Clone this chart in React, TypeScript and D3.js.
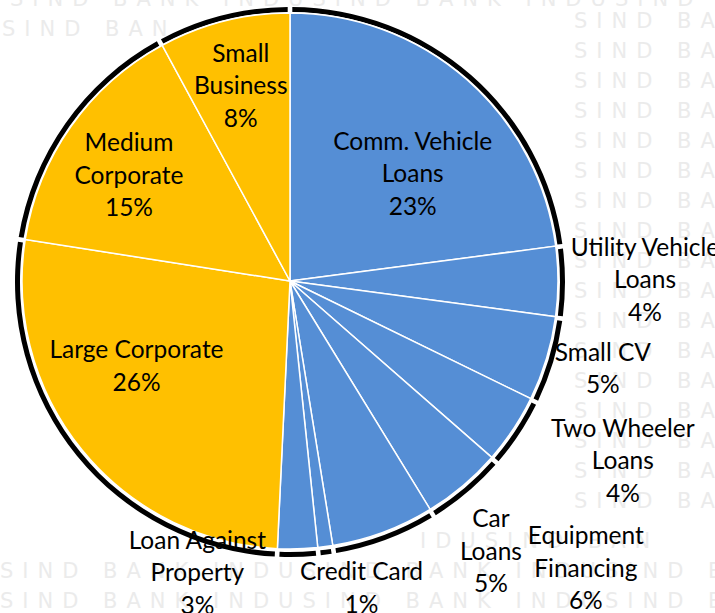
import React from 'react';
import * as d3 from 'd3';

// loan book mix, clockwise from 12 o'clock
const categories = [
  'Comm. Vehicle Loans',
  'Utility Vehicle Loans',
  'Small CV',
  'Two Wheeler Loans',
  'Car Loans',
  'Equipment Financing',
  'Credit Card',
  'Loan Against Property',
  'Large Corporate',
  'Medium Corporate',
  'Small Business',
];
const labelLines = [
  ['Comm. Vehicle', 'Loans'],
  ['Utility Vehicle', 'Loans'],
  ['Small CV'],
  ['Two Wheeler', 'Loans'],
  ['Car', 'Loans'],
  ['Equipment', 'Financing'],
  ['Credit Card'],
  ['Loan Against', 'Property'],
  ['Large Corporate'],
  ['Medium', 'Corporate'],
  ['Small', 'Business'],
];
const shares = [22.9, 4.2, 5.1, 4.2, 4.8, 6.2, 0.9, 2.4, 26.7, 14.6, 7.9];
const shareLabels = ['23%', '4%', '5%', '4%', '5%', '6%', '1%', '3%', '26%', '15%', '8%'];
const groups = ['Consumer', 'Consumer', 'Consumer', 'Consumer', 'Consumer', 'Consumer', 'Consumer', 'Consumer', 'Corporate', 'Corporate', 'Corporate'];
const insideLabel = [true, false, false, false, false, false, false, false, true, true, true];

// layout
const width = 715;
const height = 613;
const cx = 290;
const cy = 281;
const radius = 268;
const lineH = 32.5;
// hand tweaks so labels sit where the best-fit placement put them
const labelNudge: [number, number][] = [
  [4, 28], [25, -2], [-3, -8], [58, -3], [-12, 18], [181, -22],
  [28, -20], [-102, -38], [-14, -29], [-14, -2], [-5, -21],
];
// watermark only shows round the edges of the pasted chart
const sideRows = d3.range(28, 526, 30);
const bottomRows = [548, 578, 608];

export default function App() {
  const color = d3.scaleOrdinal<string, string>()
    .domain(['Consumer', 'Corporate'])
    .range(['#558ed5', '#ffc000']);

  const pie = d3.pie<number>().sort(null).value((d) => d);
  const slices = pie(shares);

  const arc = d3.arc<d3.PieArcDatum<number>>().innerRadius(0).outerRadius(radius);
  const rim = d3.arc<d3.PieArcDatum<number>>()
    .innerRadius(radius + 2)
    .outerRadius(radius + 7)
    .padAngle(0.012);
  const inArc = d3.arc<d3.PieArcDatum<number>>().innerRadius(180).outerRadius(180);
  const outArc = d3.arc<d3.PieArcDatum<number>>().innerRadius(330).outerRadius(330);

  const font = 'Lato, "Open Sans", sans-serif';

  return (
    <svg
      width={width}
      height={height}
      style={{ position: 'absolute', left: 0, top: 0, background: '#fff' }}
    >
      <g fill="#ebebeb" fontFamily="'DejaVu Sans', sans-serif" fontSize={21} letterSpacing={9}>
        <text x={10} y={6}>SIND BANK INDUSIND BANK INDUSIND BAN</text>
        <text x={2} y={36}>SIND BAN</text>
        {sideRows.map((y) => (
          <text key={'s' + y} x={574} y={y}>SIND BAN</text>
        ))}
        {bottomRows.map((y, i) => (
          <text key={'b' + y} x={i === 0 ? 420 : 0} y={y}>
            {i === 0 ? 'IDUSIND BAN' : 'SIND BANK INDUSIND BANK INDUSIND BAN'}
          </text>
        ))}
      </g>

      <g transform={`translate(${cx},${cy + 1})`}>
        {slices.map((s, i) => (
          <path key={'r' + i} d={rim(s) || ''} fill="#000" />
        ))}
      </g>
      <g transform={`translate(${cx},${cy})`}>
        {slices.map((s, i) => (
          <path
            key={categories[i]}
            d={arc(s) || ''}
            fill={color(groups[i])}
            stroke="#fff"
            strokeWidth={1.5}
          />
        ))}
        {slices.map((s, i) => {
          const [x0, y0] = (insideLabel[i] ? inArc : outArc).centroid(s);
          const x = x0 + labelNudge[i][0];
          const y = y0 + labelNudge[i][1];
          const lines = [...labelLines[i], shareLabels[i]];
          return (
            <text
              key={'l' + i}
              x={x}
              y={y}
              textAnchor="middle"
              fontFamily={font}
              fontSize={24.5}
              fill="#000"
            >
              {lines.map((t, j) => (
                <tspan key={j} x={x} y={y + (j - (lines.length - 1) / 2) * lineH} dy="0.35em">
                  {t}
                </tspan>
              ))}
            </text>
          );
        })}
      </g>
    </svg>
  );
}
